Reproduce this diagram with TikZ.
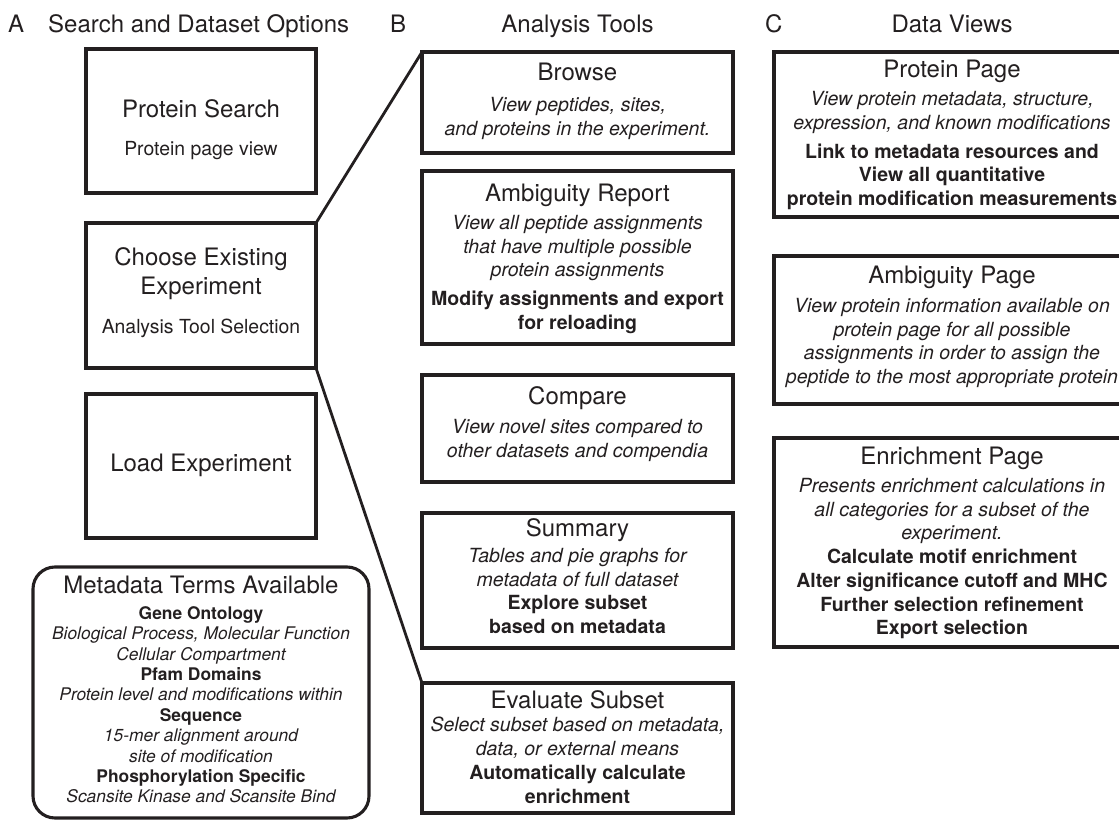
\documentclass[tikz,border=0pt]{standalone}
\usepackage{fontspec}
\setmainfont{TeX Gyre Heros}
\definecolor{ink}{RGB}{35,31,32}
\newcommand\mytitle{\fontsize{24}{24}\selectfont}
\newcommand\mysub{\fontsize{19.4}{23.5}\selectfont}
\newcommand\firststrut{\rule{0pt}{20pt}}
\begin{document}
\begin{tikzpicture}[x=1pt,y=-1pt,
  box/.style={draw=ink, line width=3.1pt, outer sep=0pt, inner sep=0pt, rectangle},
  rbox/.style={box, rounded corners=22pt},
  conn/.style={draw=ink, line width=2.8pt, line cap=round},
  txt/.style={align=center, inner sep=0pt, anchor=north, text=ink, font=\fontsize{19.5}{23.5}\selectfont},
  mtxt/.style={txt, font=\fontsize{17.4}{20.4}\selectfont},
  hdr/.style={inner sep=0pt, anchor=base, text=ink, font=\fontsize{24}{24}\selectfont}
]
\useasboundingbox (0,0) rectangle (1119,821);

% headers
\node[hdr, anchor=base west] (hA) at (8,33) {A};
\node[hdr, anchor=base west] (hAt) at (48,33) {Search and Dataset Options};
\node[hdr, anchor=base west] (hB) at (390,33) {B};
\node[hdr] (hBt) at (577.5,33) {Analysis Tools};
\node[hdr, anchor=base west] (hC) at (765,33) {C};
\node[hdr] (hCt) at (952,33) {Data Views};

% column A boxes
\node[box, minimum width=230pt, minimum height=144pt] (ps) at (201,121) {};
\node[box, minimum width=230pt, minimum height=145pt] (ce) at (201,295.5) {};
\node[box, minimum width=230pt, minimum height=144pt] (le) at (201,466) {};
\node[rbox, minimum width=336pt, minimum height=251pt] (md) at (201,692.5) {};

% column B boxes
\node[box, minimum width=311pt, minimum height=101pt] (br) at (577.5,102.5) {};
\node[box, minimum width=311pt, minimum height=173pt] (ar) at (577.5,257.5) {};
\node[box, minimum width=311pt, minimum height=107pt] (cmp) at (577.5,428.5) {};
\node[box, minimum width=311pt, minimum height=135pt] (sum) at (577.5,580.5) {};
\node[box, minimum width=311pt, minimum height=130pt] (ev) at (577.5,748) {};

% column C boxes
\node[box, minimum width=356pt, minimum height=165pt] (pp) at (952,134.5) {};
\node[box, minimum width=356pt, minimum height=148pt] (ap) at (952,330) {};
\node[box, minimum width=356pt, minimum height=209pt] (en) at (952,542.5) {};

% connectors
\draw[conn] (ce.north east) -- (br.north west);
\draw[conn] (ce.south east) -- (ev.north west);

% texts column A
\node[txt] (psT) at (201,97) {\firststrut{\mytitle Protein Search}\\[15pt]{\mysub Protein page view}};
\node[txt] (ceT) at (201,245) {\firststrut{\mytitle Choose Existing}\\[5.5pt]{\mytitle Experiment}\\[16pt]{\mysub Analysis Tool Selection}};
\node[txt] (leT) at (201,451) {\firststrut{\mytitle Load Experiment}};
\node[mtxt] (mdT) at (201,573) {\firststrut{\mytitle Metadata Terms Available}\\[5.6pt]
{\bfseries Gene Ontology}\\
{\itshape Biological Process, Molecular Function}\\
{\itshape Cellular Compartment}\\
{\bfseries Pfam Domains}\\
{\itshape Protein level and modifications within}\\
{\bfseries Sequence}\\
{\itshape 15-mer alignment around}\\
{\itshape site of modification}\\
{\bfseries Phosphorylation Specific}\\
{\itshape Scansite Kinase and Scansite Bind}};

% texts column B
\node[txt] (brT) at (577.5,60) {\firststrut{\mytitle Browse}\\[8pt]
{\itshape View peptides, sites,}\\
{\itshape and proteins in the experiment.}};
\node[txt] (arT) at (577.5,181) {\firststrut{\mytitle Ambiguity Report}\\[5pt]
{\itshape View all peptide assignments}\\
{\itshape that have multiple possible}\\
{\itshape protein assignments}\\[5.5pt]
{\bfseries Modify assignments and export}\\
{\bfseries for reloading}};
\node[txt] (cmpT) at (577.5,384) {\firststrut{\mytitle Compare}\\[6pt]
{\itshape View novel sites compared to}\\[0pt]
{\itshape other datasets and compendia}};
\node[txt] (sumT) at (577.5,516) {\firststrut{\mytitle Summary}\\[3pt]
{\itshape Tables and pie graphs for}\\
{\itshape metadata of full dataset}\\
{\bfseries Explore subset}\\
{\bfseries based on metadata}};
\node[txt] (evT) at (577.5,688) {\firststrut{\mytitle Evaluate Subset}\\
{\itshape Select subset based on metadata,}\\
{\itshape data, or external means}\\[1pt]
{\bfseries Automatically calculate}\\
{\bfseries enrichment}};

% texts column C
\node[txt] (ppT) at (952,57) {\firststrut{\mytitle Protein Page}\\[5pt]
{\itshape View protein metadata, structure,}\\
{\itshape expression, and known modifications}\\[5.5pt]
{\bfseries Link to metadata resources and}\\
{\bfseries View all quantitative}\\
{\bfseries protein modification measurements}};
\node[txt] (apT) at (952,263) {\firststrut{\mytitle Ambiguity Page}\\[6pt]
{\itshape View protein information available on}\\
{\itshape protein page for all possible}\\
{\itshape assignments in order to assign the}\\
{\itshape peptide to the most appropriate protein}};
\node[txt] (enT) at (952,444) {\firststrut{\mytitle Enrichment Page}\\[5pt]
{\itshape Presents enrichment calculations in}\\
{\itshape all categories for a subset of the}\\
{\itshape experiment.}\\
{\bfseries Calculate motif enrichment}\\[1pt]
{\bfseries Alter significance cutoff and MHC}\\
{\bfseries Further selection refinement}\\
{\bfseries Export selection}};
\end{tikzpicture}
\end{document}
